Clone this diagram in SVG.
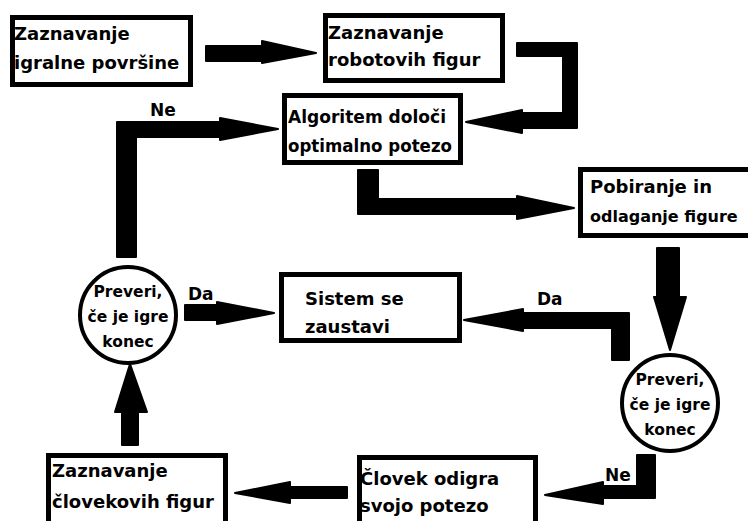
<svg xmlns="http://www.w3.org/2000/svg" width="748" height="521" viewBox="0 0 748 521">
<style>
.box{fill:#fff;stroke:#000;stroke-width:5}
.circ{fill:#fff;stroke:#000;stroke-width:4}
.t{font-family:"DejaVu Sans",sans-serif;font-weight:bold;font-size:18px;fill:#000}
.c{font-family:"DejaVu Sans",sans-serif;font-weight:bold;font-size:15.5px;fill:#000;text-anchor:middle}
.lbl{font-family:"DejaVu Sans",sans-serif;font-weight:bold;font-size:17px;fill:#000}
.arr{fill:#000;stroke:#000;stroke-width:2;stroke-linejoin:round}
</style>
<rect width="748" height="521" fill="#fff"/>
<g id="connectors">
<polygon class="arr" points="206,46 262,46 262,41 316,53 262,63 262,61 206,61"/>
<polygon class="arr" points="517,43 577,43 577,128 522,128 522,133 466,122 522,110 522,113 563,113 563,56 517,56"/>
<polygon class="arr" points="117,122 220,122 220,118 278,129 220,140 220,137 136,137 136,257 117,257"/>
<polygon class="arr" points="358,170 378,170 378,199 517,199 517,196 574,208 517,219 517,214 358,214"/>
<polygon class="arr" points="657,248 679,248 679,297 686,297 670,350 654,297 657,297"/>
<polygon class="arr" points="612,360 629,360 629,313 523,313 523,309 464,320 523,331 523,328 612,328"/>
<polygon class="arr" points="185,305 217,305 217,302 274,313 217,324 217,320 185,320"/>
<polygon class="arr" points="122,445 138,445 138,412 147,412 130,364 115,412 122,412"/>
<polygon class="arr" points="637,455 655,455 655,498 603,498 603,504 545,495 603,482 603,486 637,486"/>
<polygon class="arr" points="347,487 347,498 290,498 290,503 235,493 290,482 290,487"/>
<text class="lbl" x="150" y="116">Ne</text>
<text class="lbl" x="188" y="300">Da</text>
<text class="lbl" x="537" y="305">Da</text>
<text class="lbl" x="605" y="481">Ne</text>
</g>
<g id="n1"><rect class="box" x="12.5" y="17.5" width="178" height="67"/>
<text class="t" x="14" y="40">Zaznavanje</text><text class="t" x="14" y="69">igralne površine</text></g>
<g id="n2"><rect class="box" x="325.5" y="15.5" width="177" height="65"/>
<text class="t" x="328" y="39">Zaznavanje</text><text class="t" x="328" y="66">robotovih figur</text></g>
<g id="n3"><rect class="box" x="284.5" y="95.5" width="176" height="67"/>
<text class="t" x="288" y="123" textLength="158" lengthAdjust="spacingAndGlyphs">Algoritem določi</text><text class="t" x="288" y="152" textLength="164" lengthAdjust="spacingAndGlyphs">optimalno potezo</text></g>
<g id="n4"><rect class="box" x="580.5" y="169.5" width="180" height="66"/>
<text class="t" x="590" y="193">Pobiranje in</text><text class="t" x="590" y="222" style="font-size:16px">odlaganje figure</text></g>
<g id="n5"><rect class="box" x="281.5" y="274.5" width="178" height="66"/>
<text class="t" x="305" y="305">Sistem se</text><text class="t" x="305" y="333">zaustavi</text></g>
<g id="n6"><circle class="circ" cx="128" cy="315" r="48"/>
<text class="c" x="128" y="297">Preveri,</text><text class="c" x="128" y="322">če je igre</text><text class="c" x="128" y="347">konec</text></g>
<g id="n7"><circle class="circ" cx="670" cy="403" r="48"/>
<text class="c" x="670" y="385">Preveri,</text><text class="c" x="670" y="410">če je igre</text><text class="c" x="670" y="435">konec</text></g>
<g id="n8"><rect class="box" x="359.5" y="457.5" width="176" height="70"/>
<text class="t" x="360" y="485">Človek odigra</text><text class="t" x="360" y="512">svojo potezo</text></g>
<g id="n9"><rect class="box" x="48.5" y="455.5" width="177" height="70"/>
<text class="t" x="52" y="477">Zaznavanje</text><text class="t" x="52" y="508">človekovih figur</text></g>
</svg>
